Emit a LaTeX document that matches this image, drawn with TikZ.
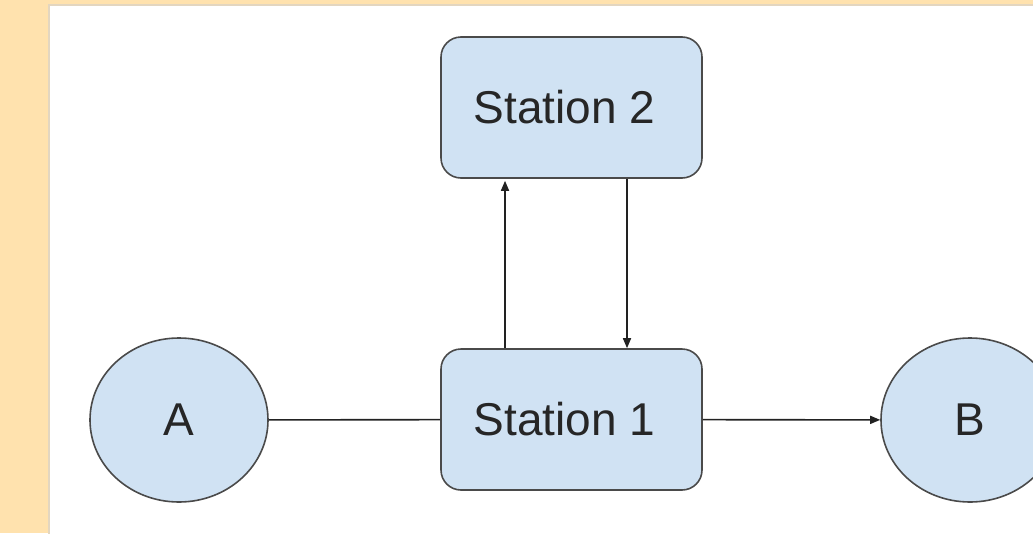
\documentclass[tikz,border=0pt]{standalone}
\usepackage{fontspec}
\setmainfont{Liberation Sans}
\usetikzlibrary{arrows.meta,shapes.geometric}
\definecolor{bgorange}{HTML}{FFE2AE}
\definecolor{paneledge}{HTML}{E3D6C0}
\definecolor{nodefill}{HTML}{D0E2F3}
\definecolor{nodeedge}{HTML}{4A4A4A}
\definecolor{linecol}{HTML}{222222}
\tikzset{
  station/.style={draw=nodeedge, line width=1.6pt, fill=nodefill, rounded corners=20pt,
    minimum width=261pt, minimum height=141pt, inner sep=0pt,
    font=\fontsize{46}{50}\selectfont, text=black!85},
  endpt/.style={ellipse, draw=nodeedge, line width=1.6pt, fill=nodefill,
    minimum width=178pt, minimum height=164pt, inner sep=0pt,
    font=\fontsize{46}{50}\selectfont, text=black!85},
  conn/.style={draw=linecol, line width=1.6pt},
  arr/.style={conn, -{Triangle[length=10pt,width=8pt]}}
}
\begin{document}
\begin{tikzpicture}[x=1pt,y=-1pt]
\useasboundingbox (0,0) rectangle (1033,533);
\clip (0,0) rectangle (1033,533);
\fill[bgorange] (0,0) rectangle (1033,533);
\fill[white] (49,5) rectangle (1040,540);
\draw[paneledge, line width=1.2pt] (49,540) -- (49,5) -- (1040,5);
\node[endpt] (a) at (179,420) {A};
\node[endpt] (b) at (970,420) {B};
\node[station] (s1) at (571.5,419.5) {\hspace{-14pt}Station 1};
\node[station] (s2) at (571.5,107.5) {\hspace{-14pt}Station 2};
\draw[conn] (a) -- (s1);
\draw[arr] (s1) -- (b);
\draw[arr] ([xshift=-66.5pt]s1.north) -- ([xshift=-66.5pt,yshift=-2pt]s2.south);
\draw[arr] ([xshift=55.5pt]s2.south) -- ([xshift=55.5pt]s1.north);
\end{tikzpicture}
\end{document}
